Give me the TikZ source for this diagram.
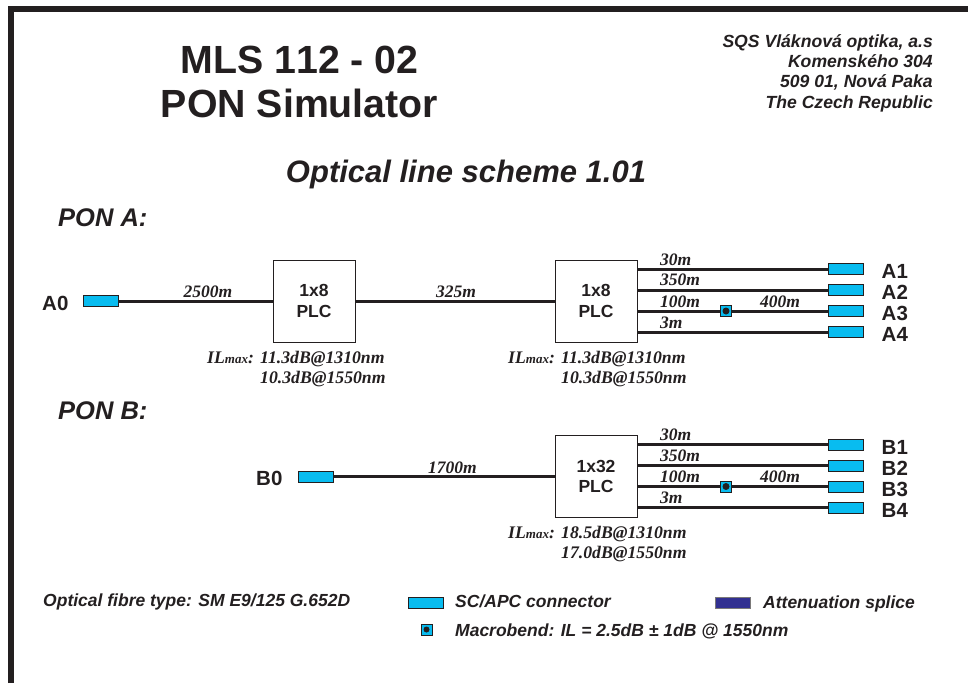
\documentclass[tikz,border=0pt]{standalone}
\usepackage{fontspec}
\setmainfont{Liberation Sans}
\newfontfamily\titlefont{Liberation Sans}[Kerning=Off]
\newfontfamily\serifb{Liberation Serif}[BoldFont={Liberation Serif Bold},ItalicFont={Liberation Serif Italic},BoldItalicFont={Liberation Serif Bold Italic}]
\definecolor{conn}{RGB}{8,188,240}
\definecolor{splice}{RGB}{50,48,145}
\definecolor{ink}{RGB}{35,31,32}
\tikzset{
  x=1pt,y=-1pt,
  fibre/.style={draw=ink,line width=3pt},
  plc/.style={draw=ink,line width=1pt,fill=white,inner sep=0pt,align=center,text=ink,font=\fontsize{17.5}{20.7}\selectfont\bfseries},
  sc/.style={draw=ink,line width=1pt,fill=conn,minimum width=35pt,minimum height=11pt,inner sep=0pt},
  mb/.style={draw=ink,line width=1pt,fill=conn,minimum width=11pt,minimum height=11pt,inner sep=0pt},
  port/.style={anchor=west,text=ink,font=\fontsize{20.5}{20}\selectfont\bfseries,inner sep=0pt},
  len/.style={anchor=base,text=ink,font=\serifb\fontsize{17.5}{17.5}\selectfont\bfseries\itshape,inner sep=0pt},
  il/.style={anchor=north west,text=ink,align=left,font=\serifb\fontsize{17.7}{20}\selectfont\bfseries\itshape,inner sep=0pt},
  head/.style={anchor=base west,text=ink,font=\fontsize{25.5}{26}\selectfont\bfseries\itshape,inner sep=0pt},
  note/.style={anchor=base west,text=ink,font=\fontsize{17.5}{17.5}\selectfont\bfseries\itshape,inner sep=0pt},
}
\newcommand{\ilmax}[2]{\makebox[53pt][l]{IL{\fontsize{13}{13}\selectfont max}:}#1\\\hspace*{53pt}#2}
\begin{document}
\begin{tikzpicture}
\useasboundingbox (0,0) rectangle (968,683);
\draw[draw=ink,line width=6pt] (11,683) -- (11,9) -- (968,9);
% titles
\node[anchor=center,text=ink,align=center,font=\titlefont\fontsize{39.3}{44}\selectfont\bfseries,inner sep=0pt] (title) at (299.5,82) {MLS 112 - 02\\PON Simulator};
\node[anchor=north east,text=ink,align=right,font=\fontsize{17.6}{20.3}\selectfont\bfseries\itshape,inner sep=0pt] (addr) at (933,34) {SQS Vláknová optika, a.s\\Komenského 304\\509 01, Nová Paka\\The Czech Republic};
\node[anchor=base,text=ink,font=\fontsize{31}{31}\selectfont\bfseries\itshape,inner sep=0pt] (scheme) at (466,182) {Optical line scheme 1.01};
\node[head] (pona) at (58,226) {PON A:};
\node[head] (ponb) at (58,419) {PON B:};
% PON A
\node[port] (a0lab) at (42,303) {A0};
\node[sc] (a0) at (100.5,301) {};
\node[plc,minimum width=82pt,minimum height=82pt] (p1) at (314,301) {1x8\\PLC};
\node[plc,minimum width=82pt,minimum height=82pt] (p2) at (596,301) {1x8\\PLC};
\draw[fibre] (a0) -- (p1);
\draw[fibre] (p1) -- (p2);
\node[len] (l1) at (208,297) {2500m};
\node[len] (l2) at (456,297) {325m};
\foreach \n/\y in {1/269,2/290,4/332}{
  \node[sc] (a\n) at (846,\y) {};
  \coordinate (pa\n) at (p2.east |- a\n);
  \draw[fibre] (pa\n) -- (a\n);
  \node[port] (a\n lab) at (881.5,\y+2.5) {A\n};
}
\node[sc] (a3) at (846,311) {};
\node[port] (a3lab) at (881.5,313.5) {A3};
\node[mb] (ma) at (726,311) {};
\fill[ink] (ma) circle (3.5pt);
\coordinate (pa3) at (p2.east |- a3);
\draw[fibre] (pa3) -- (ma);
\draw[fibre] (ma) -- (a3);
\node[len,anchor=base west] (t1) at (660,265) {30m};
\node[len,anchor=base west] (t2) at (660,285.5) {350m};
\node[len,anchor=base west] (t3) at (660,307.5) {100m};
\node[len,anchor=base west] (t4) at (660,328) {3m};
\node[len,anchor=base west] (t5) at (760,307.5) {400m};
\node[il] (ila1) at (207,351) {\ilmax{11.3dB@1310nm}{10.3dB@1550nm}};
\node[il] (ila2) at (508,351) {\ilmax{11.3dB@1310nm}{10.3dB@1550nm}};
% PON B
\node[port] (b0lab) at (256,478.5) {B0};
\node[sc] (b0) at (316,476.5) {};
\node[plc,minimum width=82pt,minimum height=82pt] (p3) at (596,476.5) {1x32\\PLC};
\draw[fibre] (b0) -- (p3);
\node[len] (l3) at (452.5,473) {1700m};
\foreach \n/\y in {1/444.5,2/465.5,4/507.5}{
  \node[sc] (b\n) at (846,\y) {};
  \coordinate (pb\n) at (p3.east |- b\n);
  \draw[fibre] (pb\n) -- (b\n);
  \node[port] (b\n lab) at (881.5,\y+2.5) {B\n};
}
\node[sc] (b3) at (846,486.5) {};
\node[port] (b3lab) at (881.5,489) {B3};
\node[mb] (mb1) at (726,486.5) {};
\fill[ink] (mb1) circle (3.5pt);
\coordinate (pb3) at (p3.east |- b3);
\draw[fibre] (pb3) -- (mb1);
\draw[fibre] (mb1) -- (b3);
\node[len,anchor=base west] (u1) at (660,440.7) {30m};
\node[len,anchor=base west] (u2) at (660,461) {350m};
\node[len,anchor=base west] (u3) at (660,482.7) {100m};
\node[len,anchor=base west] (u4) at (660,503) {3m};
\node[len,anchor=base west] (u5) at (760,482.7) {400m};
\node[il] (ilb) at (508,526) {\ilmax{18.5dB@1310nm}{17.0dB@1550nm}};
% legend
\node[note] (fib) at (43,606) {Optical fibre type: SM E9/125 G.652D};
\node[sc] (lsc) at (425.5,602.5) {};
\node[note] (lsct) at (455,607.5) {SC/APC connector};
\node[draw=ink!60,line width=1pt,fill=splice,minimum width=35pt,minimum height=11pt,inner sep=0pt] (lsp) at (732.5,602.5) {};
\node[note] (lspt) at (763,608) {Attenuation splice};
\node[mb] (lmb) at (426.5,629.5) {};
\fill[ink] (lmb) circle (3pt);
\node[note] (lmbt) at (455,636.5) {Macrobend: IL = 2.5dB ± 1dB @ 1550nm};
\end{tikzpicture}
\end{document}
